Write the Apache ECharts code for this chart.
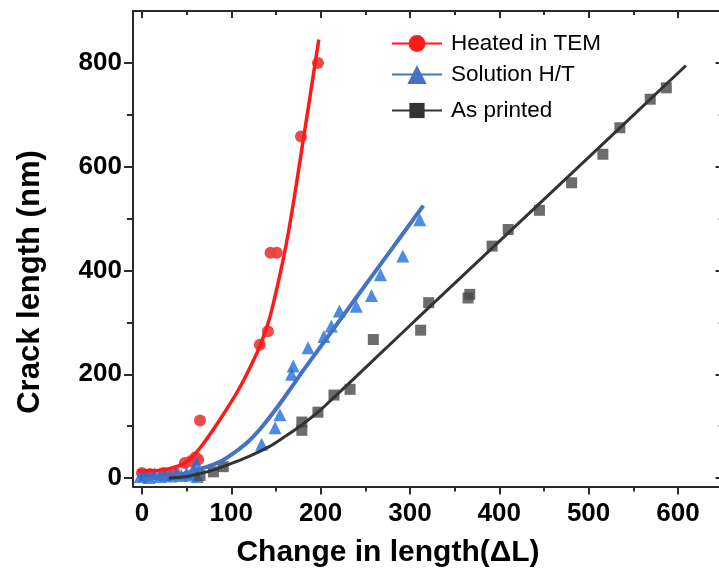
<!DOCTYPE html>
<html><head><meta charset="utf-8">
<script src="https://cdn.jsdelivr.net/npm/echarts@6/dist/echarts.min.js"></script>
<style>html,body{margin:0;padding:0;overflow:hidden;background:#fff}#c{width:730px;height:576px}</style>
</head><body><div id="c"></div>
<script>
const seriesNames = ['Heated in TEM', 'Solution H/T', 'As printed'];
const xAxisTitle = 'Change in length(\u0394L)';
const yAxisTitle = 'Crack length (nm)';

const xMajorTicks = [0, 100, 200, 300, 400, 500, 600];
const xMinorTicks = [50, 150, 250, 350, 450, 550];
const yMajorTicks = [0, 200, 400, 600, 800];
const yMinorTicks = [100, 300, 500, 700];

const heatedPoints = [[0,10],[9,8],[24,10],[36,12],[48,29],[55,33],[60,40],[63,36],[65,111],[132,257],[141,283],[144,434],[151,434],[178,658],[197,800]];
const heatedFit = [[-5,14],[10,14],[25,16],[40,23],[50,31],[65,58],[87,112],[110,176],[129,242],[136,272],[144,315],[154,388],[162,455],[170,535],[180,645],[189,745],[198,845]];

const solutionPoints = [[-2,3],[3,6],[8,1],[14,8],[20,3],[26,7],[32,4],[38,9],[44,5],[50,10],[55,6],[58,16],[61,28],[62,3],[134,65],[149,97],[154.5,122],[167.5,200],[169.4,216],[186,251],[203.7,273],[212,293],[221,322],[240,331],[257,352],[267,392],[292,428],[311,498]];
const solutionFit = [[0,-2],[15,0],[30,3],[45,8],[60,15],[75,23],[90,34],[105,51],[120,72],[135,100],[150,133],[165,169],[180,206],[207,270],[240,348],[265,407],[290,466],[315,525]];

const printedPoints = [[65,5],[80,12],[91,22],[179,92],[179,108],[197,127],[215,160],[233,171],[259,267],[312,285],[321,338],[365,347],[367,354],[392,447],[410,479],[445,516],[481,569],[516,624],[535,675],[569,730],[587,752]];
const printedFit = [[30,0],[50,3],[75,13],[98,27],[120,42],[143,61],[160,80],[177,100],[199,130],[214,154],[240,196],[270,245],[300,294],[322,330],[400,456],[500,618],[609,795]];

const FONT = "'Liberation Sans', Arial, Helvetica, sans-serif";
const AX = {color: '#2a2a2a', width: 2};
const XMIN = -10, XMAX = 650, YMIN = -16, YMAX = 900;

function xAx(pos, lineShow, ticks, len, inside, labels) {
  return {
    type: 'value', position: pos, min: XMIN, max: XMAX,
    axisLine: {show: lineShow, onZero: false, lineStyle: AX},
    axisTick: {show: true, inside: inside, length: len, customValues: ticks, lineStyle: AX},
    axisLabel: labels ? {show: true, customValues: ticks, fontSize: 26, fontWeight: 'bold', color: '#000', fontFamily: FONT, margin: 14} : {show: false},
    splitLine: {show: false}
  };
}
function yAx(pos, lineShow, ticks, len, inside, labels) {
  return {
    type: 'value', position: pos, min: YMIN, max: YMAX,
    axisLine: {show: lineShow, onZero: false, lineStyle: AX},
    axisTick: {show: true, inside: inside, length: len, customValues: ticks, lineStyle: AX},
    axisLabel: labels ? {show: true, customValues: ticks, fontSize: 26, fontWeight: 'bold', color: '#000', fontFamily: FONT, margin: 11} : {show: false},
    splitLine: {show: false}
  };
}

function legendFor(name, top, h) {
  return {
    data: [name], left: 391, top: top, padding: 0, orient: 'vertical',
    itemWidth: 50, itemHeight: h, selectedMode: false,
    lineStyle: {width: 2},
    textStyle: {fontSize: 22.5, color: '#000', fontFamily: FONT, padding: [0, 0, 0, 4]}
  };
}

const colors = {
  redLine: '#ff1a1a', redPt: '#ec4040',
  blueLine: '#4472c4', bluePt: '#1f6fdc',
  darkLine: '#333333', darkPt: '#474747'
};

const chart = echarts.init(document.getElementById('c'), null, {renderer: 'canvas'});
chart.setOption({
  animation: false,
  backgroundColor: '#fff',
  grid: {left: 133, top: 11, width: 589.6, height: 475.4, containLabel: false},
  xAxis: [
    xAx('bottom', true, xMajorTicks, 8, false, true),
    xAx('bottom', false, xMinorTicks, 5, false, false),
    xAx('top', true, xMajorTicks, 7, true, false),
    xAx('top', false, xMinorTicks, 4, true, false)
  ],
  yAxis: [
    yAx('left', true, yMajorTicks, 9, false, true),
    yAx('left', false, yMinorTicks, 6, false, false),
    yAx('right', true, yMajorTicks, 7, true, false),
    yAx('right', false, yMinorTicks, 4, true, false)
  ],
  legend: [
    legendFor(seriesNames[0], 32, 21),
    legendFor(seriesNames[1], 63, 24),
    legendFor(seriesNames[2], 99, 19)
  ],
  graphic: [
    {type: 'text', x: 388, y: 553, style: {text: xAxisTitle, fontSize: 30, fontWeight: 'bold', fill: '#000', fontFamily: FONT, align: 'center', verticalAlign: 'middle'}},
    {type: 'text', x: 30, y: 282, rotation: Math.PI / 2, style: {text: yAxisTitle, fontSize: 31, fontWeight: 'bold', fill: '#000', fontFamily: FONT, align: 'center', verticalAlign: 'middle'}}
  ],
  series: [
    {name: seriesNames[0], type: 'line', data: heatedFit, smooth: 0.3, showSymbol: false, symbol: 'circle', z: 4,
      color: colors.redLine, lineStyle: {color: colors.redLine, width: 3.5}},
    {name: seriesNames[1], type: 'line', data: solutionFit, smooth: 0.3, showSymbol: false, symbol: 'triangle', z: 4,
      color: colors.blueLine, lineStyle: {color: colors.blueLine, width: 4}},
    {name: seriesNames[2], type: 'line', data: printedFit, smooth: 0.3, showSymbol: false, symbol: 'rect', z: 4,
      color: colors.darkLine, lineStyle: {color: colors.darkLine, width: 3}},
    {name: seriesNames[0], type: 'scatter', data: heatedPoints, symbol: 'circle', symbolSize: 12, z: 2,
      itemStyle: {color: colors.redPt, opacity: 0.95}},
    {name: seriesNames[1], type: 'scatter', data: solutionPoints, symbol: 'triangle', symbolSize: 13, z: 2,
      itemStyle: {color: colors.bluePt}},
    {name: seriesNames[2], type: 'scatter', data: printedPoints, symbol: 'rect', symbolSize: 11, z: 2,
      itemStyle: {color: colors.darkPt}}
  ]
});
</script></body></html>
